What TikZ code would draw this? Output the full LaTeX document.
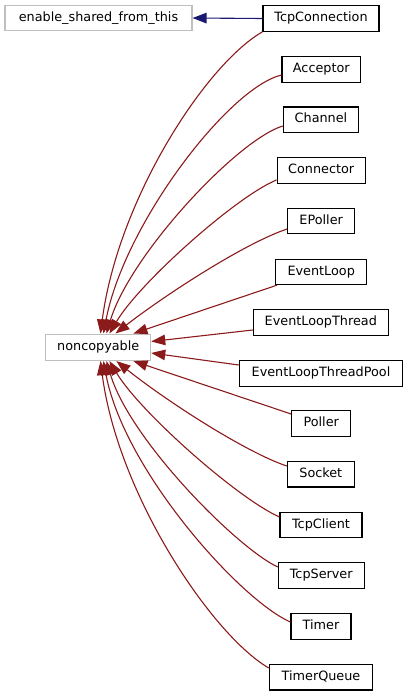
\documentclass[tikz,border=0pt]{standalone}
\usepackage{fontspec}
\setmainfont{DejaVu Sans}
\usetikzlibrary{arrows.meta}
\definecolor{edgered}{HTML}{8B1A1A}
\definecolor{edgeblue}{HTML}{191970}
\definecolor{extgrey}{HTML}{BFBFBF}
\tikzset{
  cls/.style={draw=black, line width=1.1pt, fill=white, inner sep=0pt,
    minimum height=25.5pt, text height=9.3pt, text depth=2.9pt,
    font=\fontsize{12.8pt}{15pt}\selectfont},
  extcls/.style={cls, draw=extgrey},
  inh/.style={draw=edgered, line width=1.1pt, -{Triangle[length=14pt,width=10.5pt]}},
  useedge/.style={draw=edgeblue, line width=1.1pt, -{Triangle[length=14pt,width=10.5pt]}}
}
\begin{document}
\begin{tikzpicture}[x=1pt,y=-1pt]
\useasboundingbox (0,0) rectangle (408,696);
% external classes
\node[extcls, minimum width=187pt]   (esft) at (98.5,18) {enable\_shared\_from\_this};
\node[extcls, minimum width=105pt, minimum height=26.5pt] (nc) at (98.2,347.3) {noncopyable};
% derived classes
\node[cls, minimum width=116pt]   (tcpc) at (321,18.5)  {TcpConnection};
\node[cls, minimum width=78.6pt]  (acc)  at (321.3,69.5) {Acceptor};
\node[cls, minimum width=75.4pt]  (chan) at (321,119.7) {Channel};
\node[cls, minimum width=88.3pt]  (conn) at (321.2,170.3) {Connector};
\node[cls, minimum width=67pt]    (epol) at (321.2,221) {EPoller};
\node[cls, minimum width=91pt]    (evl)  at (321.2,271.8) {EventLoop};
\node[cls, minimum width=135pt]   (elt)  at (320.8,322.5) {EventLoopThread};
\node[cls, minimum width=163.4pt] (eltp) at (321,373.3) {EventLoopThreadPool};
\node[cls, minimum width=59pt]    (pol)  at (321.2,423.5) {Poller};
\node[cls, minimum width=67pt]    (sock) at (320.8,474.2) {Socket};
\node[cls, minimum width=82pt]    (tcl)  at (321,525) {TcpClient};
\node[cls, minimum width=85.7pt]  (tsv)  at (321.2,575.3) {TcpServer};
\node[cls, minimum width=60pt]    (tim)  at (321,626.3) {Timer};
\node[cls, minimum width=103.4pt] (tq)   at (321,677.2) {TimerQueue};
% usage edge
\draw[useedge] (tcpc.west) -- (esft.east);
% inheritance edges
\draw[inh] (tcpc.south west) .. controls (205,65) and (118,200) .. ([xshift=55.3pt]nc.north west);
\draw[inh] ([yshift=-5.5pt]acc.west) .. controls (228,88) and (124,225) .. ([xshift=58.3pt]nc.north west);
\draw[inh] ([yshift=-6.3pt]chan.west) .. controls (237,140) and (130,255) .. ([xshift=61.3pt]nc.north west);
\draw[inh] ([yshift=-9.7pt]conn.west) .. controls (237,196) and (140,282) .. ([xshift=64.3pt]nc.north west);
\draw[inh] ([yshift=-8pt]epol.west) .. controls (245,243) and (165,295) .. ([xshift=70.3pt]nc.north west);
\draw[inh] ([xshift=2pt]evl.south west) -- ([xshift=88.3pt]nc.north west);
\draw[inh] ([yshift=-7.5pt]elt.west) -- ([yshift=5.8pt]nc.east);
\draw[inh] ([yshift=8.3pt]eltp.west) -- ([yshift=-5.7pt]nc.east);
\draw[inh] ([yshift=9.5pt]pol.west) -- ([xshift=88.3pt]nc.south west);
\draw[inh] ([yshift=8.2pt]sock.west) .. controls (245,452) and (165,400) .. ([xshift=71.3pt]nc.south west);
\draw[inh] ([yshift=8pt]tcl.west) .. controls (237,498) and (140,412) .. ([xshift=64.3pt]nc.south west);
\draw[inh] ([yshift=8.3pt]tsv.west) .. controls (237,548) and (130,440) .. ([xshift=61.3pt]nc.south west);
\draw[inh] ([yshift=4.3pt]tim.west) .. controls (240,600) and (124,470) .. ([xshift=58.3pt]nc.south west);
\draw[inh] ([yshift=9.2pt]tq.west) .. controls (212,635) and (118,495) .. ([xshift=55.3pt]nc.south west);
\end{tikzpicture}
\end{document}
